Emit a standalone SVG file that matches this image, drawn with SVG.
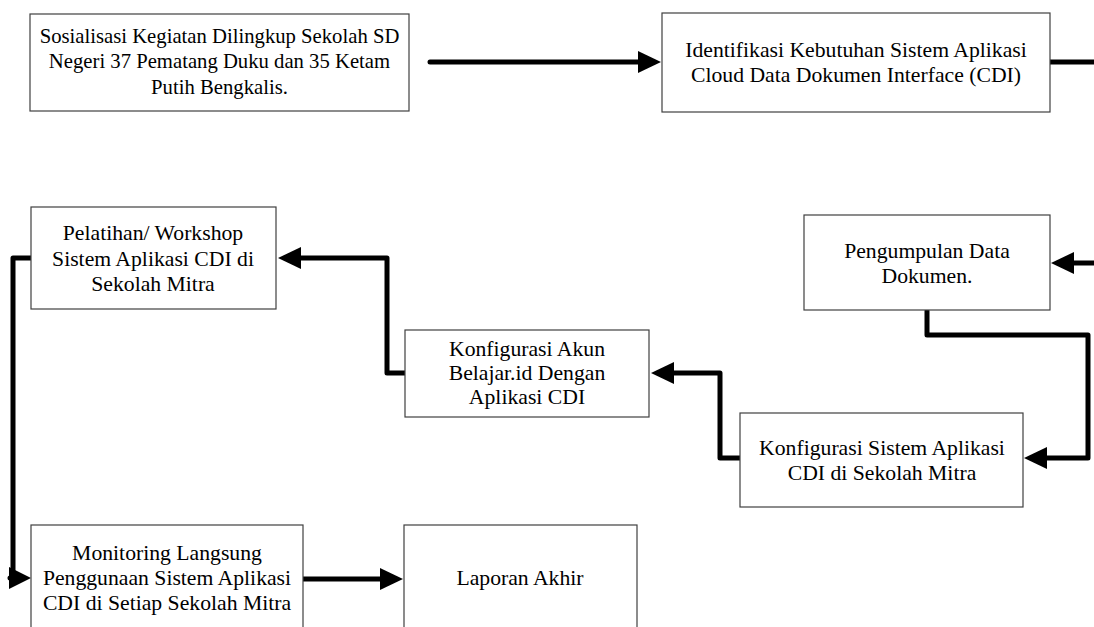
<svg xmlns="http://www.w3.org/2000/svg" width="1094" height="627" viewBox="0 0 1094 627">
<style>
.box{fill:#fff;stroke:#404040;stroke-width:1.2}
.t{font-family:"Liberation Serif","Times New Roman",serif;font-size:21.7px;fill:#000;text-anchor:middle}
.s{font-size:20.7px}
.c{fill:none;stroke:#000;stroke-width:5;stroke-linecap:round;stroke-linejoin:round}
</style>
<defs>
<marker id="ah" markerUnits="userSpaceOnUse" markerWidth="24" markerHeight="22" refX="1" refY="11" orient="auto">
<path d="M0,0 L23,11 L0,22 z" fill="#000"/>
</marker>
</defs>
<rect width="1094" height="627" fill="#fff"/>
<g id="connectors">
<path class="c" d="M430,62 H639" marker-end="url(#ah)"/>
<path class="c" d="M1050,62 H1096"/>
<path class="c" d="M1096,263 H1073" marker-end="url(#ah)"/>
<path class="c" d="M927,311 V335 H1088 V458 H1046" marker-end="url(#ah)"/>
<path class="c" d="M740,458 H720 V373 H673" marker-end="url(#ah)"/>
<path class="c" d="M405,373 H387 V258 H300" marker-end="url(#ah)"/>
<path class="c" d="M31,258 H13 V578 H10"/>
<path d="M9,567 L31,578 L9,589 z" fill="#000"/>
<path class="c" d="M303,579 H381" marker-end="url(#ah)"/>
</g>
<g id="n1">
<rect class="box" x="30" y="14" width="379" height="97"/>
<text class="t s" x="219.5" y="43">Sosialisasi Kegiatan Dilingkup Sekolah SD</text>
<text class="t s" x="219.5" y="68">Negeri 37 Pematang Duku dan 35 Ketam</text>
<text class="t s" x="219.5" y="94">Putih Bengkalis.</text>
</g>
<g id="n2">
<rect class="box" x="662" y="13" width="388" height="99"/>
<text class="t" x="856" y="57">Identifikasi Kebutuhan Sistem Aplikasi</text>
<text class="t" x="856" y="82">Cloud Data Dokumen Interface (CDI)</text>
</g>
<g id="n3">
<rect class="box" x="804" y="215" width="246" height="95"/>
<text class="t" x="927" y="258">Pengumpulan Data</text>
<text class="t" x="927" y="283">Dokumen.</text>
</g>
<g id="n4">
<rect class="box" x="740" y="413" width="283" height="94"/>
<text class="t" x="882" y="455">Konfigurasi Sistem Aplikasi</text>
<text class="t" x="882" y="480">CDI di Sekolah Mitra</text>
</g>
<g id="n5">
<rect class="box" x="405" y="330" width="244" height="87"/>
<text class="t" x="527" y="356">Konfigurasi Akun</text>
<text class="t" x="527" y="380">Belajar.id Dengan</text>
<text class="t" x="527" y="404">Aplikasi CDI</text>
</g>
<g id="n6">
<rect class="box" x="31" y="207" width="245" height="102"/>
<text class="t" x="153" y="240">Pelatihan/ Workshop</text>
<text class="t" x="153" y="266">Sistem Aplikasi CDI di</text>
<text class="t" x="153" y="291">Sekolah Mitra</text>
</g>
<g id="n7">
<rect class="box" x="31" y="525" width="272" height="110"/>
<text class="t" x="167" y="560">Monitoring Langsung</text>
<text class="t" x="167" y="585">Penggunaan Sistem Aplikasi</text>
<text class="t" x="167" y="610">CDI di Setiap Sekolah Mitra</text>
</g>
<g id="n8">
<rect class="box" x="404" y="525" width="233" height="110"/>
<text class="t" x="520" y="585">Laporan Akhir</text>
</g>
</svg>
